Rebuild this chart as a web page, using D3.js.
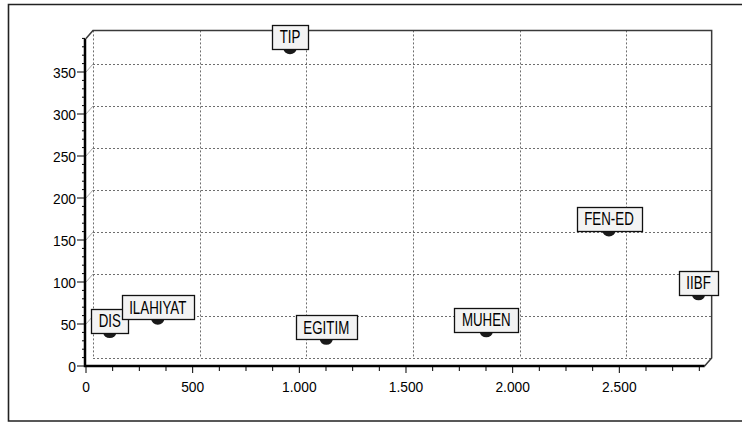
<!DOCTYPE html>
<html>
<head>
<meta charset="utf-8">
<script src="https://cdn.jsdelivr.net/npm/d3@7"></script>
<style>
  body { margin: 0; background: #fff; }
  text { font-family: "Liberation Sans", Arial, sans-serif; fill: #000; }
</style>
</head>
<body>
<div id="chart"></div>
<script>
(function () {

  // faculties and their values
  const names = ["DIS", "ILAHIYAT", "TIP", "EGITIM", "MUHEN", "FEN-ED", "IIBF"];
  const xVals = [95, 320, 940, 1110, 1860, 2435, 2855];
  const yVals = [35, 51, 373, 27, 36, 156, 80];

  const xTicks = [0, 500, 1000, 1500, 2000, 2500];
  const yTicks = [0, 50, 100, 150, 200, 250, 300, 350];
  const xMax = 2900, yMax = 390;

  const width = 742, height = 423;
  const dx = 7, dy = 8;           // 3D depth offset
  const gridColor = "#6e6e6e";
  const px = v => Math.round(v) + 0.5;   // crisp 1px lines

  const svg = d3.select("#chart")
    .append("svg")
    .attr("width", width)
    .attr("height", height);

  // front scales
  const x = d3.scaleLinear().domain([0, xMax]).range([86, 86 + xMax * 0.21333]);
  const y = d3.scaleLinear().domain([0, yMax]).range([366, 366 - yMax * 0.84]);

  const x0 = x(0), x1 = x(xMax), y0 = y(0), y1 = y(yMax);

  // outer frame (right edge falls outside the picture)
  svg.append("path")
    .attr("d", `M${width + 5},4.5 H8.5 V421 H${width + 5}`)
    .attr("fill", "none")
    .attr("stroke", "#222")
    .attr("stroke-width", 1.6);

  // gridlines on back wall
  svg.append("g").selectAll("line")
    .data(yTicks)
    .join("line")
    .attr("x1", x0 + dx).attr("x2", x1 + dx)
    .attr("y1", d => px(y(d) - dy)).attr("y2", d => px(y(d) - dy))
    .attr("stroke", gridColor)
    .attr("stroke-dasharray", "2,2");

  svg.append("g").selectAll("line")
    .data(xTicks)
    .join("line")
    .attr("x1", d => px(x(d) + dx)).attr("x2", d => px(x(d) + dx))
    .attr("y1", y1 - dy).attr("y2", y0 - dy)
    .attr("stroke", gridColor)
    .attr("stroke-dasharray", "2,2");

  // small depth lines at the y ticks
  svg.append("g").selectAll("line")
    .data(yTicks.slice(1))
    .join("line")
    .attr("x1", x0).attr("x2", x0 + dx)
    .attr("y1", d => y(d)).attr("y2", d => y(d) - dy)
    .attr("stroke", "#aaa");

  // back wall top and right edges + corner diagonals
  svg.append("path")
    .attr("d", `M${x0},${y1} L${x0 + dx},${y1 - dy} H${x1 + dx} V${y0 - dy} L${x1},${y0}`)
    .attr("fill", "none")
    .attr("stroke", "#3a3a3a")
    .attr("stroke-width", 1.5);

  // front axes
  svg.append("path")
    .attr("d", `M${x0 - 1},${y1} V${y0} H${x1}`)
    .attr("fill", "none")
    .attr("stroke", "#000")
    .attr("stroke-width", 2.5);

  // y axis ticks and labels
  const yMinor = d3.range(0, yMax + 1, 10).filter(v => v % 50 !== 0);
  svg.append("g").selectAll("line")
    .data(yMinor)
    .join("line")
    .attr("x1", x0 - 4).attr("x2", x0 - 1)
    .attr("y1", d => y(d)).attr("y2", d => y(d))
    .attr("stroke", "#000");

  svg.append("g").selectAll("line")
    .data(yTicks)
    .join("line")
    .attr("x1", x0 - 9).attr("x2", x0 - 1)
    .attr("y1", d => y(d)).attr("y2", d => y(d))
    .attr("stroke", "#000");

  svg.append("g").selectAll("text")
    .data(yTicks)
    .join("text")
    .attr("text-anchor", "end")
    .attr("transform", d => `translate(${x0 - 10},${y(d) + 5.5}) scale(0.92,1)`)
    .style("font-size", "15px")
    .text(d => d);

  // x axis ticks and labels
  const xMinor = d3.range(0, xMax, 125).filter(v => v % 500 !== 0);
  svg.append("g").selectAll("line")
    .data(xMinor)
    .join("line")
    .attr("x1", d => x(d)).attr("x2", d => x(d))
    .attr("y1", y0 + 1).attr("y2", y0 + 5)
    .attr("stroke", "#000");

  svg.append("g").selectAll("line")
    .data(xTicks)
    .join("line")
    .attr("x1", d => x(d)).attr("x2", d => x(d))
    .attr("y1", y0 + 1).attr("y2", y0 + 7)
    .attr("stroke", "#000");

  const fmt = d => d >= 1000 ? d3.format(",")(d).replace(",", ".") : String(d);
  svg.append("g").selectAll("text")
    .data(xTicks)
    .join("text")
    .attr("text-anchor", "middle")
    .attr("transform", d => `translate(${x(d)},${y0 + 26}) scale(0.92,1)`)
    .style("font-size", "15px")
    .text(fmt);

  // points sit half way in the depth
  const data = names.map((n, i) => ({ name: n, px: x(xVals[i]) + dx / 2, py: y(yVals[i]) - dy / 2 }));

  svg.append("g").selectAll("ellipse")
    .data(data)
    .join("ellipse")
    .attr("cx", d => d.px)
    .attr("cy", d => d.py)
    .attr("rx", 6.5)
    .attr("ry", 5.5)
    .attr("fill", "#1a1a1a");

  // mark labels
  const sx = 0.74, boxH = 24;
  const marks = svg.append("g").selectAll("g")
    .data(data)
    .join("g");

  marks.each(function (d) {
    const g = d3.select(this);
    const rect = g.append("rect");
    const t = g.append("text")
      .attr("text-anchor", "middle")
      .attr("transform", `translate(${d.px},${d.py - 5.5}) scale(${sx},1)`)
      .style("font-size", "18px")
      .text(d.name);
    const w = t.node().getComputedTextLength() * sx + 15;
    rect.attr("x", Math.round(d.px - w / 2) + 0.5)
      .attr("y", Math.round(d.py - boxH) + 0.5)
      .attr("width", Math.round(w))
      .attr("height", boxH)
      .attr("fill", "#f3f3f3")
      .attr("stroke", "#111")
      .attr("stroke-width", 1.3);
  });

})();
</script>
</body>
</html>
